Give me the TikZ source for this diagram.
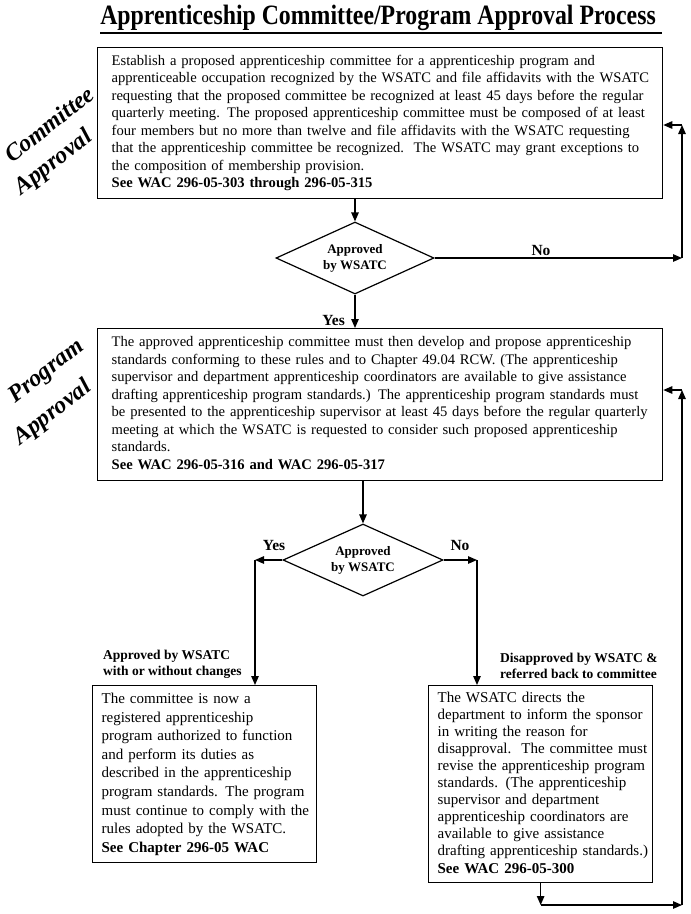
\documentclass[tikz,border=0pt]{standalone}
\usepackage{fontspec}
\usepackage{graphicx}
\setmainfont{Liberation Serif}
\usetikzlibrary{shapes.geometric,arrows.meta,calc}
\begin{document}
\begin{tikzpicture}[x=1pt,y=-1pt,
  box/.style={draw, line width=1.3pt, rectangle, anchor=north west, inner ysep=0pt, align=left},
  topbox/.style={box, text width=537pt, inner xsep=14pt, font=\fontsize{14.6}{17.5}\selectfont},
  lowbox/.style={box, text width=206pt, inner xsep=9pt},
  arr/.style={line width=1.2pt, -{Triangle[length=9pt,width=7.5pt]}},
  dia/.style={draw, line width=1.2pt, diamond, aspect=2.2, inner sep=0pt, align=center,
              font=\bfseries\fontsize{13}{16}\selectfont},
  lbl/.style={font=\bfseries\fontsize{13.5}{16}\selectfont, align=left, inner sep=0pt},
  yn/.style={font=\bfseries\fontsize{15.5}{18}\selectfont, inner sep=0pt},
  scr/.style={font=\bfseries\itshape\fontsize{24}{28}\selectfont, rotate=38, inner sep=0pt},
]
\useasboundingbox (0,0) rectangle (691,914);

% title
\node[anchor=base, inner sep=0pt] (title) at (378,24)
  {\scalebox{0.85}[1]{\bfseries\fontsize{28}{30}\selectfont Apprenticeship Committee/Program Approval Process}};
\coordinate (ruleL) at (100,33);
\coordinate (ruleR) at (662,33);
\draw[line width=1.4pt] (ruleL) -- (ruleR);

% side script labels
\node[scr] (s1) at (49,124) {Committee};
\node[scr] (s2) at (54,163) {Approval};
\node[scr] (s3) at (47,372) {Program};
\node[scr] (s4) at (53,413) {Approval};

% box 1
\node[topbox, minimum height=151pt] (b1) at (97,47) {\begin{tabular}{@{}l@{}}
Establish a proposed apprenticeship committee for a apprenticeship program and\\
apprenticeable occupation recognized by the WSATC and file affidavits with the WSATC\\
requesting that the proposed committee be recognized at least 45 days before the regular\\
quarterly meeting. The proposed apprenticeship committee must be composed of at least\\
four members but no more than twelve and file affidavits with the WSATC requesting\\
that the apprenticeship committee be recognized.\ \ The WSATC may grant exceptions to\\
the composition of membership provision.\\
\textbf{See WAC 296-05-303 through 296-05-315}
\end{tabular}};

% diamond 1
\node[dia, minimum width=158pt, minimum height=72pt] (d1) at (355,258) {Approved\\by WSATC};

% box 2
\node[topbox, minimum height=152pt] (b2) at (97,328) {\begin{tabular}{@{}l@{}}
The approved apprenticeship committee must then develop and propose apprenticeship\\
standards conforming to these rules and to Chapter 49.04 RCW. (The apprenticeship\\
supervisor and department apprenticeship coordinators are available to give assistance\\
drafting apprenticeship program standards.) The apprenticeship program standards must\\
be presented to the apprenticeship supervisor at least 45 days before the regular quarterly\\
meeting at which the WSATC is requested to consider such proposed apprenticeship\\
standards.\\
\textbf{See WAC 296-05-316 and WAC 296-05-317}
\end{tabular}};

% diamond 2
\node[dia, minimum width=160pt, minimum height=72pt] (d2) at (363,560) {Approved\\by WSATC};

% box 3
\node[lowbox, minimum height=177pt, font=\fontsize{15}{18.6}\selectfont] (b3) at (92,685) {\begin{tabular}{@{}l@{}}
The committee is now a\\
registered apprenticeship\\
program authorized to function\\
and perform its duties as\\
described in the apprenticeship\\
program standards. The program\\
must continue to comply with the\\
rules adopted by the WSATC.\\
\textbf{See Chapter 296-05 WAC}
\end{tabular}};

% box 4
\node[lowbox, minimum height=197pt, font=\fontsize{15}{17.1}\selectfont] (b4) at (428,685) {\begin{tabular}{@{}l@{}}
The WSATC directs the\\
department to inform the sponsor\\
in writing the reason for\\
disapproval.\ \ The committee must\\
revise the apprenticeship program\\
standards. (The apprenticeship\\
supervisor and department\\
apprenticeship coordinators are\\
available to give assistance\\
drafting apprenticeship standards.)\\
\textbf{See WAC 296-05-300}
\end{tabular}};

% labels
\node[yn, anchor=base] (no1) at (541,255) {No};
\node[yn, anchor=base east] (yes1) at (345,325) {Yes};
\node[yn, anchor=base] (yes2) at (274,550) {Yes};
\node[yn, anchor=base] (no2) at (460,550) {No};
\node[lbl, anchor=south west] (l3) at (103,679) {Approved by WSATC\\with or without changes};
\node[lbl, anchor=south west] (l4) at (500,679) {Disapproved by WSATC \&\\referred back to committee};

% coordinates for routing
\coordinate (r1) at (682,258);
\coordinate (r1top) at (682,125);
\coordinate (yc) at (255,560);
\coordinate (nc) at (477,560);
\coordinate (bc) at (b4.south |- 0,905);
\coordinate (r2) at (682,905);
\coordinate (r2top) at (682,390);

% connectors
\draw[arr] (d1.north |- b1.south) -- (d1.north);
\draw[arr] (d1.south) -- (d1.south |- b2.north);
\draw[arr] (d1.east) -- (r1);
\draw[arr] (r1) -- (r1top);
\draw[arr] (r1top) -- (r1top -| b1.east);

\draw[arr] (d2.north |- b2.south) -- (d2.north);
\draw[arr] (d2.west) -- (yc);
\draw[arr] (yc) -- (yc |- b3.north);
\draw[arr] (d2.east) -- (nc);
\draw[arr] (nc) -- (nc |- b4.north);

\draw[arr] (b4.south) -- (bc);
\draw[arr] (bc) -- (r2);
\draw[arr] (r2) -- (r2top);
\draw[arr] (r2top) -- (r2top -| b2.east);
\end{tikzpicture}
\end{document}
